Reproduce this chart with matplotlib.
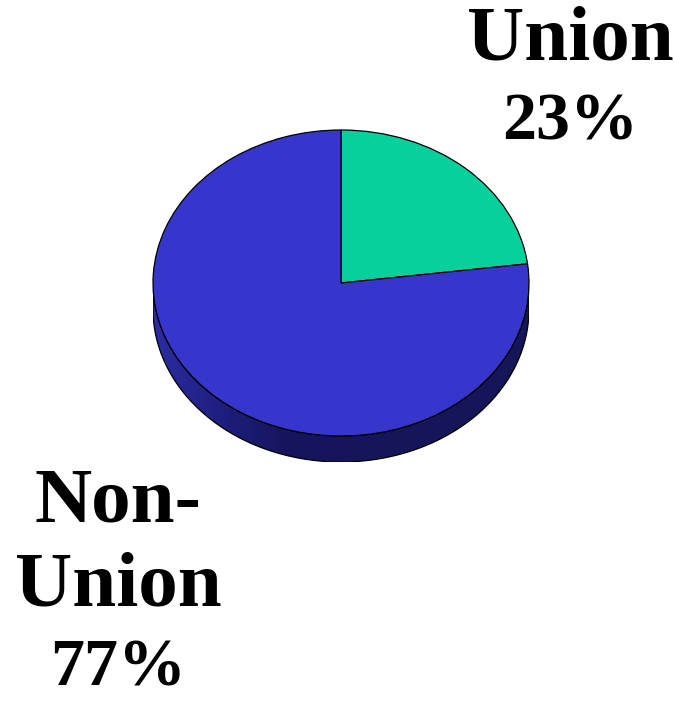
import numpy as np
import matplotlib.pyplot as plt
from matplotlib.patches import Polygon
from matplotlib.colors import LinearSegmentedColormap

# data
categories = ['Union', 'Non-Union']
label_lines = [['Union'], ['Non-', 'Union']]
shares = [23, 77]
colors = ['#06d19d', '#3636cc']

depth = 0.17  # thickness of the pie (in radius units)

fig = plt.figure(figsize=(6.75, 7.04), dpi=100)
# axes placed where the pie sits (pixels: x 153..529, y 130..462)
W, H = 675, 704
ax = fig.add_axes([153 / W, 1 - 462 / H, 376 / W, 332 / H])

wedges, _ = ax.pie(shares, colors=colors, startangle=90, counterclock=False,
                   wedgeprops=dict(edgecolor='black', linewidth=0.9))
ax.set_aspect('auto')
ax.axis('off')

# side wall of the pie (front half)
t = np.linspace(np.pi, 2 * np.pi, 200)
top = np.column_stack([np.cos(t), np.sin(t)])
bottom = np.column_stack([np.cos(t[::-1]), np.sin(t[::-1]) - depth])
side = Polygon(np.vstack([top, bottom]), closed=True, facecolor='none',
               edgecolor='black', linewidth=0.9, zorder=0.6)
ax.add_patch(side)

shade = LinearSegmentedColormap.from_list(
    'side', [(0, '#2c2ca4'), (0.2, '#1d1d7a'), (0.35, '#16165e'), (1, '#15155a')])
grad = np.linspace(0, 1, 256).reshape(1, -1)
img = ax.imshow(grad, cmap=shade, extent=[-1, 1, -1 - depth, 0], aspect='auto',
                zorder=0.5, interpolation='bilinear')
img.set_clip_path(side)
ax.set_xlim(-1, 1)
ax.set_ylim(-1 - depth, 1)

font = dict(family=['Liberation Serif', 'DejaVu Serif'], fontweight='bold',
            color='black', ha='center', va='baseline')

# label lines, baselines in pixels from the top
for txt, yb in zip(label_lines[0], [60]):
    fig.text(570 / W, 1 - yb / H, txt, fontsize=57, **font)
fig.text(570 / W, 1 - 140 / H, f"{shares[0]}%", fontsize=49, **font)

for txt, yb in zip(label_lines[1], [522, 605]):
    fig.text(118 / W, 1 - yb / H, txt, fontsize=57, **font)
fig.text(118 / W, 1 - 686 / H, f"{shares[1]}%", fontsize=49, **font)

fig.savefig('out.png', dpi=100, facecolor='white')
